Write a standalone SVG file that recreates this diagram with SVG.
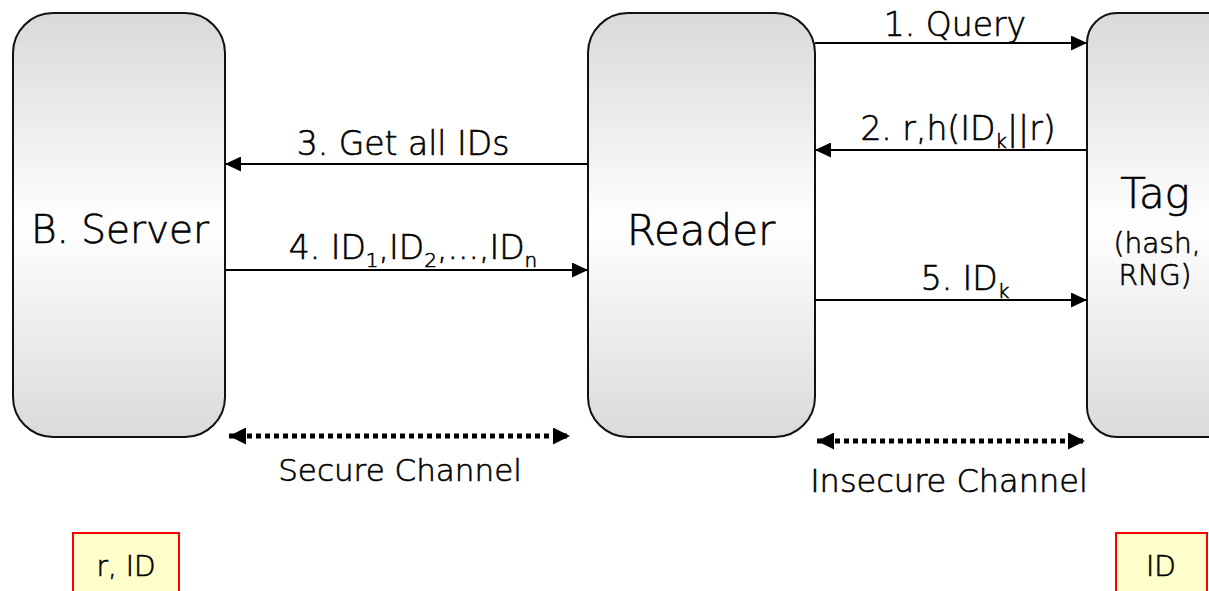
<svg xmlns="http://www.w3.org/2000/svg" width="1209" height="591" viewBox="0 0 1209 591">
<style>
text{font-family:"DejaVu Sans","Liberation Sans",sans-serif;font-weight:200;fill:#000;stroke:#000;stroke-width:0.6}
.node{stroke:#111;stroke-width:2;fill:url(#g)}
.lbl{font-size:33px;text-anchor:middle}
.big{text-anchor:middle}
.edge{stroke:#000;stroke-width:2;fill:none}
.dot{stroke:#000;stroke-width:5;stroke-dasharray:5 4;fill:none}
.note{fill:#ffffcc;stroke:#ff0000;stroke-width:2}
</style>
<defs>
<linearGradient id="g" x1="0" y1="0" x2="0" y2="1">
<stop offset="0" stop-color="#d9d9d9"/>
<stop offset="0.5" stop-color="#ffffff"/>
<stop offset="1" stop-color="#dadada"/>
</linearGradient>
<marker id="ah" viewBox="0 0 10 10" refX="10" refY="5" markerWidth="16" markerHeight="15" markerUnits="userSpaceOnUse" orient="auto-start-reverse" preserveAspectRatio="none">
<path d="M0,0L10,5L0,10z" fill="#000"/>
</marker>
<marker id="bh" viewBox="0 0 10 10" refX="10" refY="5" markerWidth="17" markerHeight="17" markerUnits="userSpaceOnUse" orient="auto-start-reverse">
<path d="M0,0L10,5L0,10z" fill="#000"/>
</marker>
</defs>
<g id="server">
<rect class="node" x="13" y="13" width="212" height="424" rx="40"/>
<text class="big" x="120" y="243" font-size="39">B. Server</text>
</g>
<g id="reader">
<rect class="node" x="588" y="13" width="227" height="424" rx="40"/>
<text class="big" x="701" y="245" font-size="42">Reader</text>
</g>
<g id="tag">
<rect class="node" x="1087" y="13" width="160" height="424" rx="30"/>
<text class="big" x="1155" y="208" font-size="42">Tag</text>
<text class="big" x="1157" y="253" font-size="28">(hash,</text>
<text class="big" x="1155" y="285" font-size="28">RNG)</text>
</g>
<g id="connectors">
<line class="edge" x1="815" y1="43" x2="1087" y2="43" marker-end="url(#ah)"/>
<text class="lbl" x="955" y="36">1. Query</text>
<line class="edge" x1="1087" y1="150" x2="815" y2="150" marker-end="url(#ah)"/>
<text class="lbl" x="958" y="140">2. r,h(ID<tspan font-size="20" dy="8">k</tspan><tspan dy="-8">||r)</tspan></text>
<line class="edge" x1="588" y1="164" x2="225" y2="164" marker-end="url(#ah)"/>
<text class="lbl" x="403" y="155">3. Get all IDs</text>
<line class="edge" x1="225" y1="270" x2="588" y2="270" marker-end="url(#ah)"/>
<text class="lbl" x="413" y="259">4. ID<tspan font-size="20" dy="8">1</tspan><tspan dy="-8">,ID</tspan><tspan font-size="20" dy="8">2</tspan><tspan dy="-8">,...,ID</tspan><tspan font-size="20" dy="8">n</tspan></text>
<line class="edge" x1="815" y1="300" x2="1087" y2="300" marker-end="url(#ah)"/>
<text class="lbl" x="965" y="290">5. ID<tspan font-size="20" dy="8">k</tspan></text>
<line class="dot" x1="229" y1="436" x2="570" y2="436" marker-start="url(#bh)" marker-end="url(#bh)"/>
<text class="big" x="400" y="481" font-size="31">Secure Channel</text>
<line class="dot" x1="817" y1="441" x2="1085" y2="441" marker-start="url(#bh)" marker-end="url(#bh)"/>
<text class="big" x="949" y="492" font-size="32">Insecure Channel</text>
</g>
<g id="note-server">
<rect class="note" x="73" y="533" width="106" height="66"/>
<text class="big" x="126" y="576" font-size="28">r, ID</text>
</g>
<g id="note-tag">
<rect class="note" x="1116" y="533" width="91" height="66"/>
<text class="big" x="1161" y="576" font-size="28">ID</text>
</g>
</svg>
